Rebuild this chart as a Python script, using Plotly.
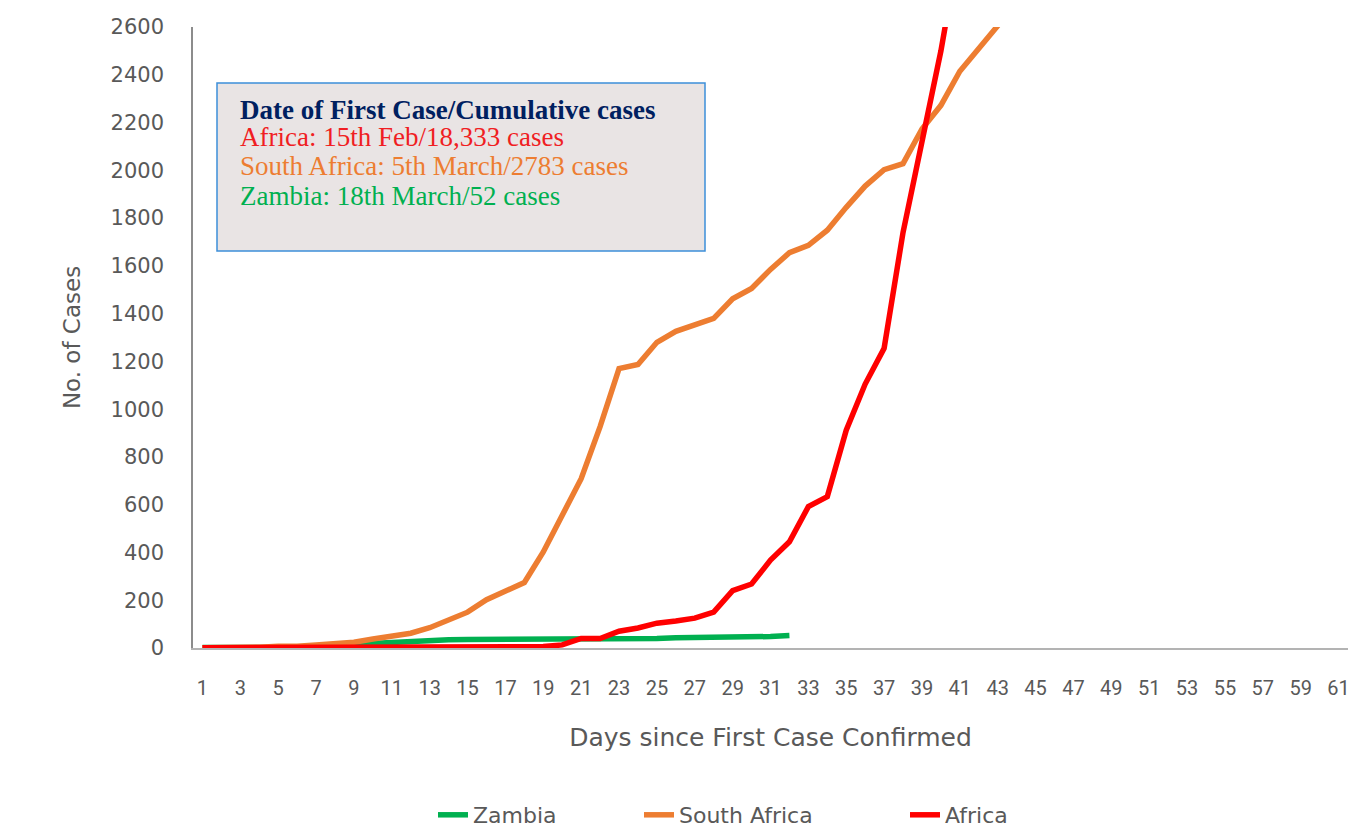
import plotly.graph_objects as go

# ---- data ----
days_zambia = list(range(1, 33))
zambia = [2, 2, 2, 2, 3, 3, 3, 12, 16, 22, 28, 29, 35, 35, 36, 36, 39, 39, 39, 39,
          39, 39, 39, 40, 40, 43, 43, 45, 45, 48, 48, 52]

days_sa = list(range(1, 45))
south_africa = [1, 1, 2, 3, 7, 7, 13, 17, 24, 38, 51, 62, 85, 116, 150, 202, 240, 274,
                402, 554, 709, 927, 1170, 1187, 1280, 1326, 1353, 1380, 1462, 1505,
                1585, 1655, 1686, 1749, 1845, 1934, 2003, 2028, 2173, 2272, 2415,
                2506, 2605, 2783]

days_africa = list(range(1, 42))
africa = [1, 1, 1, 1, 1, 1, 1, 1, 1, 1, 2, 2, 2, 3, 3, 4, 5, 6, 6, 13, 40, 40, 70,
          84, 104, 113, 125, 150, 240, 268, 368, 445, 592, 634, 912, 1105, 1255,
          1740, 2120, 2500, 2950]

x_tickvals = list(range(1, 62, 2))
y_tickvals = list(range(0, 2601, 200))

box_title = "Date of First Case/Cumulative cases"
box_lines = [("Africa: 15th Feb/18,333 cases", "#f01e23"),
             ("South Africa: 5th March/2783 cases", "#ed7d31"),
             ("Zambia: 18th March/52 cases", "#00b050")]

# ---- figure ----
fig = go.Figure()
fig.add_trace(go.Scatter(x=days_zambia, y=zambia, mode="lines", name="Zambia",
                         line=dict(color="#00b050", width=5.5), legend="legend",
                         showlegend=True))
fig.add_trace(go.Scatter(x=days_sa, y=south_africa, mode="lines", name="South Africa",
                         line=dict(color="#ed7d31", width=5.5), legend="legend2",
                         showlegend=True))
fig.add_trace(go.Scatter(x=days_africa, y=africa, mode="lines", name="Africa",
                         line=dict(color="#ff0000", width=5.5), legend="legend3",
                         showlegend=True))

# page has an 8px body margin: figure is drawn from (8, 8)
OFF = 8
W, H = 1356 - OFF, 829 - OFF
PL, PR, PT, PB = 193, 1348, 27, 648          # plot area in screen pixels
L, R, T, B = PL - OFF, (W + OFF) - PR, PT - OFF, (H + OFF) - PB
pw = PR - PL
ph = PB - PT

def px(xpix):
    return (xpix - PL) / pw

def py(ypix):
    return (PB - ypix) / ph

tick_font = dict(family="DejaVu Sans", size=21, color="#595959")
xtick_font = dict(family="Roboto, sans-serif", size=20, color="#595959")
title_font_x = dict(family="DejaVu Sans", size=25, color="#595959")
title_font_y = dict(family="DejaVu Sans", size=23, color="#595959")
leg_font = dict(family="DejaVu Sans", size=22, color="#595959")

fig.update_layout(
    width=W, height=H,
    showlegend=True,
    margin=dict(l=L, r=R, t=T, b=B, autoexpand=False),
    paper_bgcolor="white", plot_bgcolor="white",
    xaxis=dict(range=[0.5, 61.5], tickmode="array", tickvals=x_tickvals,
               showgrid=False, zeroline=False, showline=True, linecolor="#b3b3b3",
               linewidth=2, ticks="outside", ticklen=21, tickcolor="rgba(0,0,0,0)",
               tickfont=xtick_font, automargin=False,
               title=dict(text="Days since First Case Confirmed", font=title_font_x, standoff=29)),
    yaxis=dict(range=[0, 2600], tickmode="array", tickvals=y_tickvals,
               showgrid=False, zeroline=False, showline=True, linecolor="#8c8c8c",
               linewidth=1.5, ticks="outside", ticklen=23, tickcolor="rgba(0,0,0,0)",
               tickfont=tick_font, automargin=False,
               title=dict(text="No. of Cases", font=title_font_y, standoff=24)),
    legend=dict(orientation="h", x=px(433), y=py(815), xanchor="left", yanchor="middle",
                font=leg_font, bgcolor="rgba(0,0,0,0)", visible=True),
    legend2=dict(orientation="h", x=px(639), y=py(815), xanchor="left", yanchor="middle",
                 font=leg_font, bgcolor="rgba(0,0,0,0)", visible=True),
    legend3=dict(orientation="h", x=px(905), y=py(815), xanchor="left", yanchor="middle",
                 font=leg_font, bgcolor="rgba(0,0,0,0)", visible=True),
)

fig.add_shape(type="rect", xref="paper", yref="paper",
              x0=px(217), x1=px(705), y0=py(251), y1=py(83),
              fillcolor="#e9e4e4", line=dict(color="#3d8fd9", width=1.5), layer="above")

serif = "Liberation Serif, Times New Roman, serif"
line_y = [110, 137, 166, 196]
fig.add_annotation(xref="paper", yref="paper", x=px(238), y=py(line_y[0]),
                   xanchor="left", yanchor="middle", align="left", showarrow=False,
                   text="<b>" + box_title + "</b>",
                   font=dict(family=serif, size=27, color="#002060"))
for (t, c), yy in zip(box_lines, line_y[1:]):
    fig.add_annotation(xref="paper", yref="paper", x=px(238), y=py(yy),
                       xanchor="left", yanchor="middle", align="left", showarrow=False,
                       text=t, font=dict(family=serif, size=27, color=c))

fig.write_html("out.html")
